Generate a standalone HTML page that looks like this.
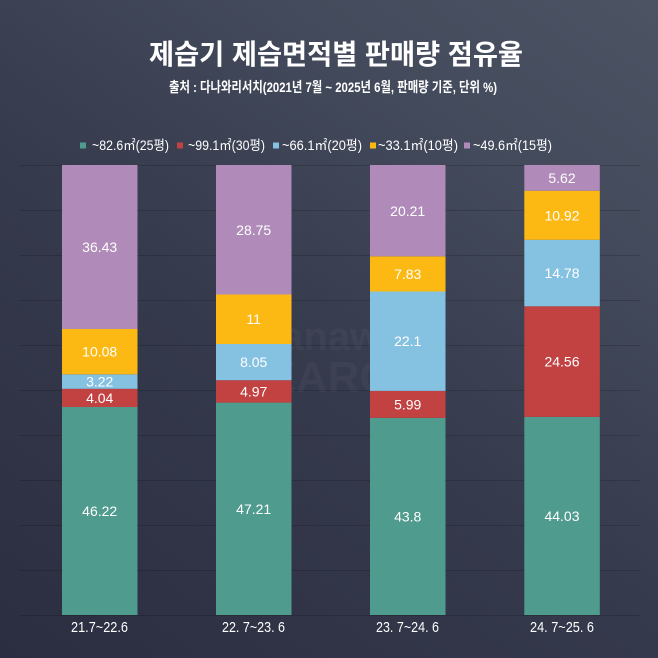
<!DOCTYPE html>
<html>
<head>
<meta charset="utf-8">
<style>
  html,body{margin:0;padding:0;}
  body{width:658px;height:658px;overflow:hidden;
    background:linear-gradient(35deg,#2b2e40 0%,#353a4c 45%,#434a5b 75%,#4c5464 100%);}
  svg{display:block;}
  .t{font-family:"Liberation Sans","Noto Sans CJK KR",sans-serif;fill:#fff;}
</style>
</head>
<body>
<svg width="658" height="658" viewBox="0 0 658 658" xmlns="http://www.w3.org/2000/svg">
  <!-- gridlines -->
  <g stroke="#000" stroke-opacity="0.16" stroke-width="1">
    <line x1="20" x2="640" y1="165.5" y2="165.5"/>
    <line x1="20" x2="640" y1="210.5" y2="210.5"/>
    <line x1="20" x2="640" y1="255.5" y2="255.5"/>
    <line x1="20" x2="640" y1="300.5" y2="300.5"/>
    <line x1="20" x2="640" y1="345.5" y2="345.5"/>
    <line x1="20" x2="640" y1="390.5" y2="390.5"/>
    <line x1="20" x2="640" y1="435.5" y2="435.5"/>
    <line x1="20" x2="640" y1="480.5" y2="480.5"/>
    <line x1="20" x2="640" y1="525.5" y2="525.5"/>
    <line x1="20" x2="640" y1="570.5" y2="570.5"/>
    <line x1="20" x2="640" y1="615.5" y2="615.5"/>
  </g>

  <!-- watermark -->
  <g font-family="Liberation Sans, sans-serif" font-weight="bold" fill="#fff" fill-opacity="0.035" text-anchor="middle">
    <text x="330" y="350" font-size="40">danawa</text>
    <text x="330" y="392" font-size="44">SEARCH</text>
  </g>

  <!-- Title -->
  <text class="t" x="149" y="64" font-size="28" font-weight="bold" textLength="374" lengthAdjust="spacingAndGlyphs">제습기 제습면적별 판매량 점유율</text>
  <text class="t" x="169" y="92" font-size="14" font-weight="bold" textLength="328" lengthAdjust="spacingAndGlyphs">출처 : 다나와리서치(2021년 7월 ~ 2025년 6월, 판매량 기준, 단위 %)</text>

  <!-- Legend -->
  <rect x="80" y="142.5" width="6" height="6" fill="#4f9b8d"/>
  <text class="t" x="92" y="150" font-size="13.5" textLength="77" lengthAdjust="spacingAndGlyphs">~82.6㎡(25평)</text>
  <rect x="177" y="142.5" width="6" height="6" fill="#c24141"/>
  <text class="t" x="188" y="150" font-size="13.5" textLength="77" lengthAdjust="spacingAndGlyphs">~99.1㎡(30평)</text>
  <rect x="273" y="142.5" width="6" height="6" fill="#85c1e1"/>
  <text class="t" x="282" y="150" font-size="13.5" textLength="80" lengthAdjust="spacingAndGlyphs">~66.1㎡(20평)</text>
  <rect x="370" y="142.5" width="6" height="6" fill="#fdb913"/>
  <text class="t" x="378" y="150" font-size="13.5" textLength="80" lengthAdjust="spacingAndGlyphs">~33.1㎡(10평)</text>
  <rect x="464" y="142.5" width="6" height="6" fill="#b08ab9"/>
  <text class="t" x="473" y="150" font-size="13.5" textLength="79" lengthAdjust="spacingAndGlyphs">~49.6㎡(15평)</text>

  <!-- Bar 1 -->
  <g>
    <rect x="62" y="407.0" width="75.5" height="208.0" fill="#4f9b8d"/>
    <rect x="62" y="388.8" width="75.5" height="18.2" fill="#c24141"/>
    <rect x="62" y="374.3" width="75.5" height="14.5" fill="#85c1e1"/>
    <rect x="62" y="329.0" width="75.5" height="45.3" fill="#fdb913"/>
    <rect x="62" y="165" width="75.5" height="164.0" fill="#b08ab9"/>
  </g>
  <!-- Bar 2 -->
  <g>
    <rect x="216" y="402.6" width="75.5" height="212.4" fill="#4f9b8d"/>
    <rect x="216" y="380.2" width="75.5" height="22.4" fill="#c24141"/>
    <rect x="216" y="344.0" width="75.5" height="36.2" fill="#85c1e1"/>
    <rect x="216" y="294.5" width="75.5" height="49.5" fill="#fdb913"/>
    <rect x="216" y="165" width="75.5" height="129.5" fill="#b08ab9"/>
  </g>
  <!-- Bar 3 -->
  <g>
    <rect x="370" y="417.9" width="75.5" height="197.1" fill="#4f9b8d"/>
    <rect x="370" y="390.9" width="75.5" height="27.0" fill="#c24141"/>
    <rect x="370" y="291.5" width="75.5" height="99.4" fill="#85c1e1"/>
    <rect x="370" y="256.3" width="75.5" height="35.2" fill="#fdb913"/>
    <rect x="370" y="165" width="75.5" height="91.3" fill="#b08ab9"/>
  </g>
  <!-- Bar 4 -->
  <g>
    <rect x="524.3" y="416.9" width="75.5" height="198.1" fill="#4f9b8d"/>
    <rect x="524.3" y="306.3" width="75.5" height="110.6" fill="#c24141"/>
    <rect x="524.3" y="239.8" width="75.5" height="66.5" fill="#85c1e1"/>
    <rect x="524.3" y="190.7" width="75.5" height="49.1" fill="#fdb913"/>
    <rect x="524.3" y="165" width="75.5" height="25.7" fill="#b08ab9"/>
  </g>

  <!-- Value labels -->
  <g class="t" font-size="14" text-anchor="middle">
    <text x="99.7" y="511" dy="0.36em">46.22</text>
    <text x="99.7" y="397.9" dy="0.36em">4.04</text>
    <text x="99.7" y="381.6" dy="0.36em">3.22</text>
    <text x="99.7" y="351.7" dy="0.36em">10.08</text>
    <text x="99.7" y="247" dy="0.36em">36.43</text>

    <text x="253.7" y="508.8" dy="0.36em">47.21</text>
    <text x="253.7" y="391.4" dy="0.36em">4.97</text>
    <text x="253.7" y="362.1" dy="0.36em">8.05</text>
    <text x="253.7" y="319.2" dy="0.36em">11</text>
    <text x="253.7" y="229.8" dy="0.36em">28.75</text>

    <text x="407.7" y="516.4" dy="0.36em">43.8</text>
    <text x="407.7" y="404.4" dy="0.36em">5.99</text>
    <text x="407.7" y="341.2" dy="0.36em">22.1</text>
    <text x="407.7" y="273.9" dy="0.36em">7.83</text>
    <text x="407.7" y="210.8" dy="0.36em">20.21</text>

    <text x="562" y="515.9" dy="0.36em">44.03</text>
    <text x="562" y="361.6" dy="0.36em">24.56</text>
    <text x="562" y="273.1" dy="0.36em">14.78</text>
    <text x="562" y="215.3" dy="0.36em">10.92</text>
    <text x="562" y="177.8" dy="0.36em">5.62</text>
  </g>

  <!-- Category labels -->
  <g class="t" font-size="15">
    <text x="71" y="632" textLength="57" lengthAdjust="spacingAndGlyphs">21.7~22.6</text>
    <text x="222" y="632" textLength="63" lengthAdjust="spacingAndGlyphs">22. 7~23. 6</text>
    <text x="376" y="632" textLength="63" lengthAdjust="spacingAndGlyphs">23. 7~24. 6</text>
    <text x="530" y="632" textLength="64" lengthAdjust="spacingAndGlyphs">24. 7~25. 6</text>
  </g>
</svg>
</body>
</html>
